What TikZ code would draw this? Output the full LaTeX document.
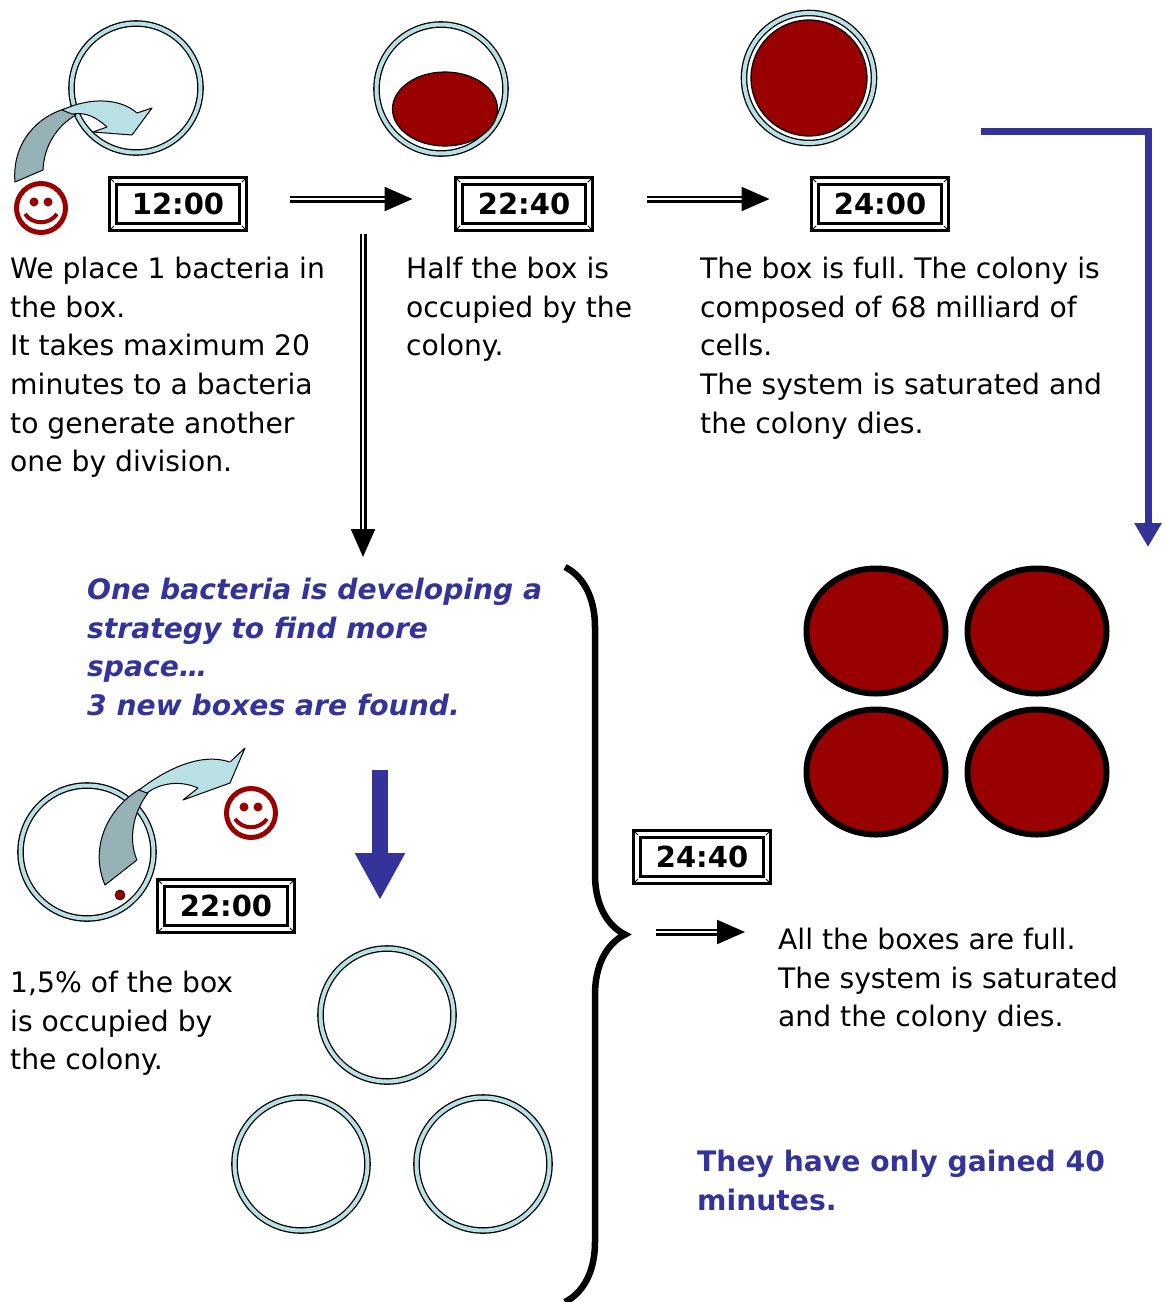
\documentclass[tikz,border=0pt]{standalone}
\usepackage{fontspec}
\setmainfont{DejaVu Sans}
\usetikzlibrary{arrows.meta,shapes.geometric,decorations.pathreplacing}

\definecolor{cellred}{HTML}{990000}
\definecolor{ringblue}{HTML}{B9E0E4}
\definecolor{folddark}{HTML}{95B2B6}
\definecolor{noteblue}{HTML}{333399}

\frenchspacing

\begin{document}
\begin{tikzpicture}[
    x=1pt, y=-1pt,
    ring/.style={circle,draw=black,line width=1.3pt,double=ringblue,double distance=4pt,inner sep=0pt,minimum size=#1},
    cell/.style={ellipse,fill=cellred,draw=black,line width=6pt,minimum width=139pt,minimum height=125pt,inner sep=0pt},
    timebox/.style={draw,line width=3pt,double=white,double distance=4pt,minimum width=130pt,minimum height=46pt,inner sep=0pt,font=\fontsize{29}{30}\selectfont\bfseries},
    dblarrow/.style={draw,line width=2.2pt,double=white,double distance=2.6pt,-{Triangle[length=28pt,width=24pt]}},
    txt/.style={align=left,anchor=north west,inner sep=0pt,font=\fontsize{28.2}{38.6}\selectfont},
    note/.style={txt,text=noteblue},
    fold/.style={draw=black,line width=1pt,line join=round}
    ]

    \useasboundingbox (0,0) rectangle (1162,1302);

    % boxes on the top row:
    \node (box1) at (136,88) [ring=129pt] {};
    \node (box2) at (441,89) [ring=129pt] {};
    \node (box3) at (809,78) [ring=130pt] {};
    \node (half) at (445,109) [ellipse,fill=cellred,draw=black,line width=1.2pt,minimum width=105pt,minimum height=74pt] {};
    \node (full) at (809,78) [circle,fill=cellred,draw=black,line width=1.2pt,minimum size=116pt,inner sep=0pt] {};

    % clocks:
    \node (t1200) at (178,204) [timebox] {12:00};
    \node (t2240) at (524,204) [timebox] {22:40};
    \node (t2400) at (880,204) [timebox] {24:00};
    \node (t2200) at (226,906) [timebox] {22:00};
    \node (t2440) at (702,857) [timebox] {24:40};

    \foreach \b in {t1200,t2240,t2400,t2200,t2440}
    \foreach \c/\dx/\dy in {north west/-1/1,north east/1/1,south west/-1/-1,south east/1/-1}
    \draw [line width=0.8pt] ([shift={(\dx*2.5pt,\dy*2.5pt)}]\b.\c) -- ([shift={(-\dx*2.5pt,-\dy*2.5pt)}]\b.\c);

    % texts:
    \node (txtstart) at (10,257) [txt] {We place 1 bacteria in\\the box.\\It takes maximum 20\\minutes to a bacteria\\to generate another\\one by division.};
    \node (txthalf) at (406,257) [txt] {Half the box is\\occupied by the\\colony.};
    \node (txtfull) at (700,257) [txt] {The box is full. The colony is\\composed of 68 milliard of\\cells.\\The system is saturated and\\the colony dies.};
    \node (txtstrategy) at (87,578) [note,font=\fontsize{28.2}{38.6}\selectfont\bfseries\itshape] {One bacteria is developing a\\strategy to find more\\space…\\3 new boxes are found.};
    \node (txtsmall) at (10,971) [txt] {1,5\% of the box\\is occupied by\\the colony.};
    \node (txtall) at (778,928) [txt] {All the boxes are full.\\The system is saturated\\and the colony dies.};
    \node (txtgain) at (697,1150) [note,font=\fontsize{28.2}{38.6}\selectfont\bfseries] {They have only gained 40\\minutes.};

    % lower left box and the three new ones:
    \node (box4) at (87,852) [ring=133pt] {};
    \node (new1) at (387,1015) [ring=133pt] {};
    \node (new2) at (301,1164) [ring=133pt] {};
    \node (new3) at (483,1164) [ring=133pt] {};
    \fill [cellred,draw=black,line width=0.6pt] (120,895) circle (5pt);

    % saturated boxes:
    \node (cell1) at (876,631) [cell] {};
    \node (cell2) at (1037,631) [cell] {};
    \node (cell3) at (876,772) [cell] {};
    \node (cell4) at (1037,772) [cell] {};

    % curved arrows:
    \filldraw [fold,fill=folddark] (15,182) .. controls (12,150) and (30,120) .. (64,109)
      -- (76,115) .. controls (58,125) and (44,145) .. (43,170) -- cycle;
    \filldraw [fold,fill=ringblue] (62,110) .. controls (90,97) and (120,98) .. (137,113)
      -- (152,108) -- (132,135) -- (93,132) -- (107,127) .. controls (96,117) and (86,112) .. (72,114) -- cycle;

    \filldraw [fold,fill=folddark] (105,885) .. controls (90,850) and (105,810) .. (140,789)
      -- (148,793) .. controls (133,812) and (128,840) .. (137,860) -- cycle;
    \filldraw [fold,fill=ringblue] (139,790) .. controls (165,770) and (200,752) .. (230,762)
      -- (245,748) -- (230,783) -- (183,800) -- (198,788) .. controls (180,780) and (160,783) .. (147,793) -- cycle;

    % smileys:
    \foreach \sx/\sy in {41/208,251/813}
    {
      \draw [cellred,line width=5pt] (\sx,\sy) circle (24.5pt);
      \fill [cellred] (\sx-7,\sy-6) circle (4.5pt) (\sx+7,\sy-6) circle (4.5pt);
      \draw [cellred,line width=4pt] (\sx-16,\sy+6) .. controls (\sx-8,\sy+17) and (\sx+8,\sy+17) .. (\sx+16,\sy+6);
    }

    % arrows:
    \draw [dblarrow,shorten <=45pt,shorten >=45pt] ([yshift=5pt]t1200.east) -- ([yshift=5pt]t2240.west);
    \draw [dblarrow,shorten <=56pt,shorten >=44pt] ([yshift=5pt]t2240.east) -- ([yshift=5pt]t2400.west);

    \coordinate (split) at (363,234);
    \coordinate (splitend) at (363,557);
    \draw [dblarrow] (split) -- (splitend);

    \coordinate (fullstart) at (981,131);
    \coordinate (fullend) at (1148,547);
    \draw [noteblue,line width=7pt,-{Triangle[length=24pt,width=26pt]}] (fullstart) -| (fullend);

    \coordinate (findtop) at (380,770);
    \coordinate (findend) at (380,900);
    \draw [noteblue,line width=16pt,-{Triangle[length=47pt,width=47pt]}] (findtop) -- (findend);

    % brace:
    \draw [decorate,decoration={brace,amplitude=60pt,aspect=0.5},line width=6.5pt] (565,567) -- (565,1302);

    \coordinate (bracetip) at (625,932);
    \coordinate (allend) at (745,932);
    \draw [dblarrow,shorten <=31pt] (bracetip) -- (allend);

\end{tikzpicture}
\end{document}
